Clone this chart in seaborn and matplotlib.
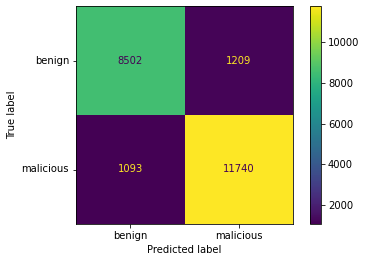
import matplotlib
matplotlib.use("Agg")
import matplotlib.pyplot as plt
import seaborn as sns
import numpy as np
import pandas as pd

labels = ["benign", "malicious"]
row_benign = [8502, 1209]
row_malicious = [1093, 11740]

cm = pd.DataFrame([row_benign, row_malicious], index=labels, columns=labels)

W, H, DPI = 366, 262, 72
fig = plt.figure(figsize=(W / DPI, H / DPI), dpi=DPI)
ax = fig.add_axes([76 / W, (H - 224) / H, 217 / W, 218 / H])
cax = fig.add_axes([310 / W, (H - 224) / H, 11 / W, 218 / H])

vmin, vmax = cm.values.min(), cm.values.max()
sns.heatmap(cm, ax=ax, cbar_ax=cax, cmap="viridis", vmin=vmin, vmax=vmax,
            annot=True, fmt="d", annot_kws={"fontsize": 10}, square=False)

cmap = plt.get_cmap("viridis")
thresh = (vmax + vmin) / 2.0
vals = cm.values.ravel()
for t, v in zip(ax.texts, vals):
    t.set_color(cmap(0.0) if v >= thresh else cmap(1.0))

for s in ax.spines.values():
    s.set_visible(True)
    s.set_linewidth(0.8)
    s.set_color("black")
ax.tick_params(axis="both", which="both", length=3.5, width=0.8, labelsize=10,
               left=True, bottom=True)
ax.set_yticklabels(labels, rotation=0, va="center")
ax.set_xticklabels(labels, rotation=0)
ax.set_xlabel("Predicted label", fontsize=10)
ax.set_ylabel("True label", fontsize=10)

cbar = ax.collections[0].colorbar
cbar.outline.set_visible(True)
cbar.outline.set_linewidth(0.8)
cbar.outline.set_edgecolor("black")
cbar.set_ticks([2000, 4000, 6000, 8000, 10000])
cax.tick_params(labelsize=10, length=3.5, width=0.8)

fig.savefig("out.png", dpi=DPI, facecolor="white")
